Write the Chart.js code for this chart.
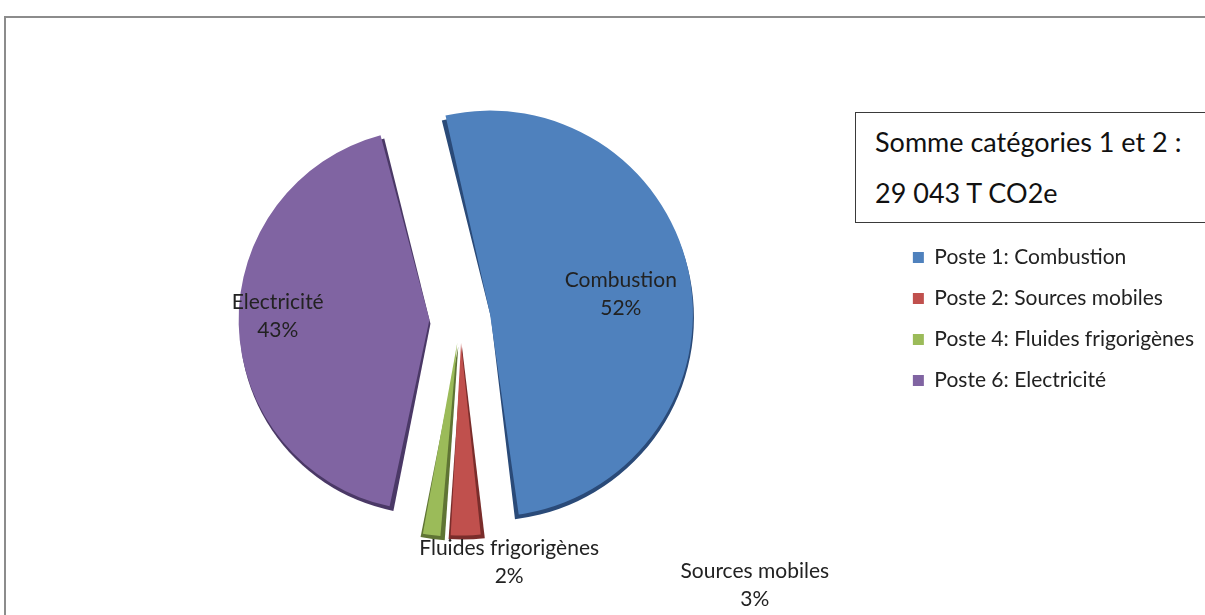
<!DOCTYPE html>
<html>
<head>
<meta charset="utf-8">
<script src="https://cdn.jsdelivr.net/npm/chart.js@4.4.0/dist/chart.umd.min.js"></script>
<style>
  html, body { margin: 0; padding: 0; background: #fff; }
  #wrap { position: relative; width: 1205px; height: 615px; overflow: hidden; }
  #frame { position: absolute; left: 4px; top: 16px; width: 1300px; height: 700px;
           border-top: 2px solid #8c8c8c; border-left: 2px solid #8c8c8c; }
  #chart { position: absolute; left: 0; top: 0; }
  #total { position: absolute; left: 855px; top: 112px; width: 400px; height: 109px;
           border: 1px solid #3a3a3a; background: #fff;
           font-family: Lato, "Open Sans", sans-serif; font-size: 27px; color: #111; }
  #total div { position: absolute; left: 19px; }
</style>
</head>
<body>
<div id="wrap">
  <div id="frame"></div>
  <canvas id="chart" width="1205" height="615"></canvas>
  <div id="total">
    <div style="top:12px">Somme catégories 1 et 2 :</div>
    <div style="top:63px">29 043 T CO2e</div>
  </div>
</div>
<script>
const legendLabels = ['Poste 1: Combustion', 'Poste 2: Sources mobiles', 'Poste 4: Fluides frigorigènes', 'Poste 6: Electricité'];
const sliceNames = ['Combustion', 'Sources mobiles', 'Fluides frigorigènes', 'Electricité'];
const shares = [52, 3, 2, 43];

const colors = ['#4f81bd', '#c0504d', '#9bbb59', '#8064a2'];
const sideColors = ['#2a4a78', '#7a2d2b', '#5f7434', '#4a3866'];
// Chart.js moves a slice by offset / 4 pixels
const explode = [120, 96, 96, 124];
// label anchor, relative to the pie centre, in radius units
const labelAt = [[0.79, -0.12], [1.45, 1.31], [0.24, 1.20], [-0.90, -0.015]];

// same shift and growth that ArcElement applies to an exploded slice
function sliceGeom(arc) {
  const p = arc.getProps(['x', 'y', 'startAngle', 'endAngle', 'outerRadius', 'circumference'], true);
  const off = (arc.options.offset || 0) / 4;
  const mid = (p.startAngle + p.endAngle) / 2;
  const fix = 1 - Math.sin(Math.min(Math.PI, p.circumference || 0));
  return {
    cx: p.x + Math.cos(mid) * off,
    cy: p.y + Math.sin(mid) * off,
    r: p.outerRadius + off * fix,
    start: p.startAngle,
    end: p.endAngle
  };
}

// darker "3D" edge under each slice
const depthPlugin = {
  id: 'depth',
  beforeDatasetsDraw(chart) {
    const ctx = chart.ctx;
    chart.getDatasetMeta(0).data.forEach((arc, i) => {
      const g = sliceGeom(arc);
      ctx.save();
      ctx.translate(1, 4);
      ctx.beginPath();
      ctx.moveTo(g.cx, g.cy);
      ctx.arc(g.cx, g.cy, g.r, g.start, g.end);
      ctx.closePath();
      ctx.fillStyle = sideColors[i];
      ctx.fill();
      ctx.restore();
    });
  }
};

const labelPlugin = {
  id: 'sliceLabels',
  afterDatasetsDraw(chart) {
    const ctx = chart.ctx;
    const arcs = chart.getDatasetMeta(0).data;
    const r = arcs[0].outerRadius + explode[0] / 4;
    ctx.save();
    ctx.font = '21px Lato, "Open Sans", sans-serif';
    ctx.fillStyle = '#222';
    ctx.textAlign = 'center';
    ctx.textBaseline = 'middle';
    arcs.forEach((arc, i) => {
      const x = arc.x + labelAt[i][0] * r;
      const y = arc.y + labelAt[i][1] * r;
      ctx.fillText(sliceNames[i], x, y - 14);
      ctx.fillText(shares[i] + '%', x, y + 14);
    });
    ctx.restore();
  }
};

new Chart(document.getElementById('chart'), {
  type: 'pie',
  data: {
    labels: legendLabels,
    datasets: [{
      data: shares,
      backgroundColor: colors,
      borderWidth: 0,
      offset: explode
    }]
  },
  options: {
    responsive: false,
    animation: false,
    rotation: -14,
    layout: { padding: { left: 28, right: 1, top: 84, bottom: 61 } },
    plugins: {
      legend: {
        position: 'right',
        labels: {
          boxWidth: 11,
          boxHeight: 11,
          padding: 20,
          color: '#222',
          font: { family: 'Lato, "Open Sans", sans-serif', size: 21 }
        }
      },
      tooltip: { enabled: false }
    }
  },
  plugins: [depthPlugin, labelPlugin]
});
</script>
</body>
</html>
